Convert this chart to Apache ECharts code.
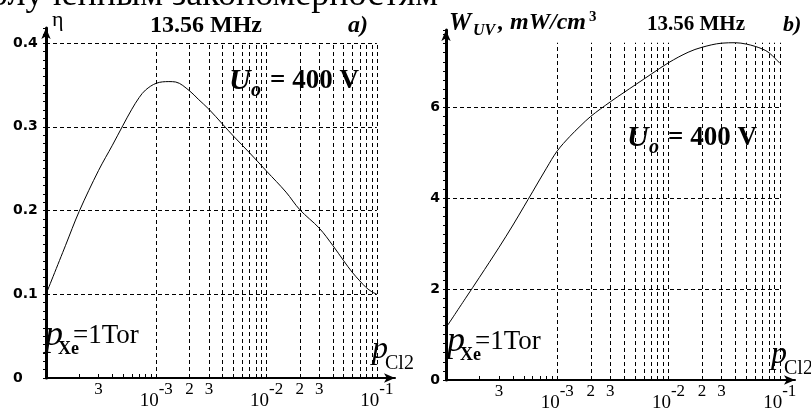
<!DOCTYPE html>
<html>
<head>
<meta charset="utf-8">
<script src="https://cdn.jsdelivr.net/npm/echarts@6/dist/echarts.min.js"></script>
<style>
html, body { margin: 0; padding: 0; background: #fff; }
#main { width: 811px; height: 410px; }
</style>
</head>
<body>
<div id="main"></div>
<script>
// panel a) efficiency vs Cl2 pressure (Torr)
var pA = [1e-4, 1.5e-4, 2e-4, 3e-4, 4e-4, 5e-4, 6e-4, 7e-4, 8e-4, 1e-3, 1.3e-3, 1.5e-3, 2e-3, 2.4e-3, 3e-3, 4e-3, 5e-3, 7e-3,
          1e-2, 1.5e-2, 2e-2, 3e-2, 4e-2, 5e-2, 6e-2, 7e-2, 8e-2, 9e-2, 1e-1];
var etaA = [0.100, 0.158, 0.199, 0.248, 0.278, 0.302, 0.321, 0.335, 0.344, 0.352, 0.354, 0.3535, 0.343, 0.333, 0.321, 0.303, 0.289, 0.269,
            0.247, 0.222, 0.201, 0.179, 0.158, 0.140, 0.126, 0.116, 0.108, 0.103, 0.100];

// panel b) UV power density, mW/cm3
var pB = [1e-4, 1.5e-4, 2e-4, 3e-4, 4e-4, 5e-4, 6e-4, 8e-4, 1e-3, 1.3e-3, 1.6e-3, 2e-3, 3e-3, 4e-3, 5e-3, 7e-3,
          1e-2, 1.5e-2, 2e-2, 3e-2, 4e-2, 5e-2, 6e-2, 7e-2, 8e-2, 1e-1];
var wB = [1.15, 1.80, 2.26, 2.92, 3.41, 3.81, 4.14, 4.66, 5.04, 5.36, 5.58, 5.80, 6.12, 6.33, 6.49, 6.73,
          6.98, 7.21, 7.32, 7.41, 7.42, 7.39, 7.34, 7.28, 7.20, 6.97];

// ticks / grid
var gridP = [1e-3, 2e-3, 3e-3, 4e-3, 5e-3, 6e-3, 7e-3, 8e-3, 9e-3,
             1e-2, 2e-2, 3e-2, 4e-2, 5e-2, 6e-2, 7e-2, 8e-2, 9e-2, 1e-1];
var tickP = [2e-4, 3e-4, 4e-4, 5e-4, 6e-4, 7e-4, 8e-4, 9e-4].concat(gridP);
var labelP = [3e-4, 1e-3, 2e-3, 3e-3, 1e-2, 2e-2, 3e-2, 1e-1];
var gridEta = [0.1, 0.2, 0.3, 0.4];
var gridW = [2, 4, 6];

var SERIF = '"Liberation Serif", "DejaVu Serif", serif';
var SANS = '"DejaVu Sans", sans-serif';

function xLabel(v) {
    var e = Math.floor(Math.log10(v) + 1e-9);
    var m = Math.round(v / Math.pow(10, e));
    if (m === 1) return '{b|10}{e|' + e + '}';
    return '{d|' + m + '}';
}

var xRich = {
    b: { fontFamily: SERIF, fontSize: 19, lineHeight: 30, verticalAlign: 'bottom', color: '#000' },
    e: { fontFamily: SERIF, fontSize: 17, lineHeight: 18, verticalAlign: 'top', color: '#000' },
    d: { fontFamily: SERIF, fontSize: 17, lineHeight: 18, verticalAlign: 'top', color: '#000' }
};

function xAxisFor(idx, max) {
    return {
        type: 'log', logBase: 10, gridIndex: idx, min: 1e-4, max: max,
        axisLine: { show: true, lineStyle: { color: '#000', width: 2 }, symbol: ['none', 'arrow'], symbolSize: [7, 11] },
        axisTick: { show: true, inside: true, length: 4, customValues: tickP, lineStyle: { color: '#000' } },
        axisLabel: { customValues: labelP, formatter: xLabel, rich: xRich, margin: 3, color: '#000' },
        splitLine: { show: false },
        minorTick: { show: false }
    };
}

function yAxisFor(idx, max, interval, fmt, labelOpt) {
    var lab = { formatter: fmt, fontFamily: SANS, fontWeight: 'bold', fontSize: 14, color: '#000' };
    for (var k in labelOpt) lab[k] = labelOpt[k];
    return {
        type: 'value', gridIndex: idx, min: 0, max: max, interval: interval,
        axisLine: { show: true, onZero: false, lineStyle: { color: '#000', width: 3 }, symbol: ['none', 'arrow'], symbolSize: [7, 11] },
        axisTick: { show: true, length: 3, lineStyle: { color: '#000' } },
        minorTick: { show: true, splitNumber: 10, length: 3, lineStyle: { color: '#000' } },
        axisLabel: lab,
        splitLine: { show: false }
    };
}

function gridLines(xs, ys, yTop) {
    var out = [];
    xs.forEach(function (p) { out.push([{ coord: [p, 0] }, { coord: [p, yTop] }]); });
    ys.forEach(function (v) { out.push([{ coord: [1e-4, v] }, { coord: [0.1, v] }]); });
    return out;
}

function markGrid(xs, ys, yTop) {
    return {
        silent: true, symbol: ['none', 'none'], label: { show: false },
        lineStyle: { color: '#000', width: 1, type: [4, 3] },
        data: gridLines(xs, ys, yTop)
    };
}

function pairs(xs, ys) {
    return xs.map(function (x, i) { return [x, ys[i]]; });
}

function txt(x, y, text, size, style, weight, family) {
    return {
        type: 'text', x: x, y: y, silent: true,
        style: {
            text: text, fill: '#000',
            font: (style || 'normal') + ' ' + (weight || 'normal') + ' ' + size + 'px ' + (family || SERIF)
        }
    };
}

var option = {
    animation: false,
    grid: [
        { left: 46, right: 416, top: 28, bottom: 32, outerBoundsMode: 'none' },
        { left: 446, right: 16, top: 30, bottom: 30, outerBoundsMode: 'none' }
    ],
    xAxis: [xAxisFor(0, 0.146), xAxisFor(1, 0.137)],
    yAxis: [
        yAxisFor(0, 0.418, 0.1, function (v) {
            if (Math.abs(v * 10 - Math.round(v * 10)) > 1e-6) return '';
            return v === 0 ? '0' : v.toFixed(1);
        }, { align: 'left', margin: 33 }),
        yAxisFor(1, 7.7, 2, function (v) {
            return Math.abs(v / 2 - Math.round(v / 2)) > 1e-6 ? '' : String(v);
        }, { margin: 6 })
    ],
    series: [
        {
            type: 'line', xAxisIndex: 0, yAxisIndex: 0, data: pairs(pA, etaA),
            smooth: 0.35, symbol: 'none', lineStyle: { color: '#000', width: 1 },
            markLine: markGrid(gridP, gridEta, 0.4)
        },
        {
            type: 'line', xAxisIndex: 1, yAxisIndex: 1, data: pairs(pB, wB),
            smooth: 0.35, symbol: 'none', lineStyle: { color: '#000', width: 1 },
            markLine: markGrid(gridP, gridW, 7.42)
        }
    ],
    graphic: [
        {
            type: 'text', x: 438, y: 14, silent: true,
            style: { text: 'олученным закономерностям', fill: '#000', font: '36px ' + SERIF, align: 'right', verticalAlign: 'bottom' }
        },
        // panel a
        txt(52, 9, 'η', 22),
        txt(150, 14, '13.56 MHz', 24, 'normal', 'bold'),
        txt(348, 14, 'a)', 24, 'italic', 'bold'),
        txt(229, 66, 'U', 30, 'italic', 'bold'),
        txt(251, 81, 'o', 20, 'italic', 'bold'),
        txt(270, 68, '= 400 V', 27, 'normal', 'bold'),
        txt(45, 318, 'p', 36, 'italic'),
        txt(58, 340, 'Xe', 18, 'normal', 'bold'),
        txt(73, 322, '=1Tor', 27),
        txt(372, 334, 'p', 32, 'italic'),
        txt(385, 354, 'Cl2', 20),
        // panel b
        txt(449, 11, 'W', 25, 'italic', 'bold'),
        txt(473, 23, 'UV', 16, 'italic', 'bold'),
        txt(498, 11, ', mW/cm', 24, 'italic', 'bold'),
        txt(589, 10, '3', 15, 'normal', 'bold'),
        txt(647, 14, '13.56 MHz', 21, 'normal', 'bold'),
        txt(783, 14, 'b)', 22, 'italic', 'bold'),
        txt(627, 123, 'U', 30, 'italic', 'bold'),
        txt(649, 138, 'o', 20, 'italic', 'bold'),
        txt(668, 125, '= 400 V', 27, 'normal', 'bold'),
        txt(447, 324, 'p', 36, 'italic'),
        txt(460, 346, 'Xe', 18, 'normal', 'bold'),
        txt(475, 328, '=1Tor', 27),
        txt(771, 339, 'p', 32, 'italic'),
        txt(784, 359, 'Cl2', 20)
    ]
};

var myChart = echarts.init(document.getElementById('main'));
myChart.setOption(option);
</script>
</body>
</html>
